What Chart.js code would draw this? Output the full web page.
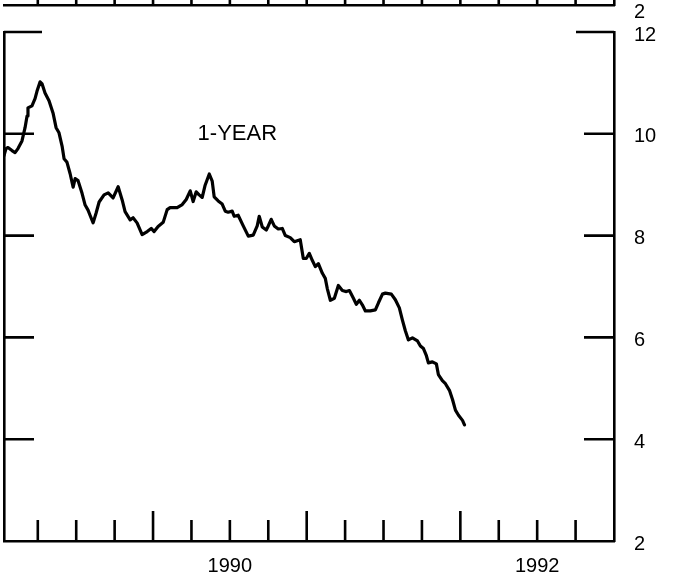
<!DOCTYPE html>
<html>
<head>
<meta charset="utf-8">
<script src="https://cdn.jsdelivr.net/npm/chart.js@4.4.0/dist/chart.umd.min.js"></script>
<style>
    body { margin: 0; background: #fff; width: 676px; height: 573px; overflow: hidden; position: relative; }
    #topPanel { position: absolute; left: 0; top: -63px; }
    #chart1yr { position: absolute; left: 0; top: 0; }
</style>
</head>
<body>
<canvas id="topPanel" width="676" height="100"></canvas>
<canvas id="chart1yr" width="676" height="573"></canvas>
<script>
// dates in decimal years
const dates = [
    1989.030, 1989.043, 1989.056, 1989.082, 1989.102, 1989.121, 1989.147, 1989.167, 1989.180, 1989.186,
    1989.212, 1989.232, 1989.245, 1989.265, 1989.278, 1989.297, 1989.323, 1989.349, 1989.369, 1989.388,
    1989.408, 1989.421, 1989.440, 1989.460, 1989.480, 1989.493, 1989.512, 1989.538, 1989.558, 1989.577,
    1989.590, 1989.610, 1989.629, 1989.649, 1989.681, 1989.708, 1989.740, 1989.773, 1989.799, 1989.818,
    1989.851, 1989.870, 1989.896, 1989.929, 1989.962, 1989.988, 1990.007, 1990.033, 1990.066, 1990.092,
    1990.111, 1990.157, 1990.190, 1990.216, 1990.242, 1990.261, 1990.281, 1990.300, 1990.320, 1990.339,
    1990.366, 1990.385, 1990.398, 1990.424, 1990.450, 1990.470, 1990.489, 1990.515, 1990.528, 1990.554,
    1990.587, 1990.620, 1990.652, 1990.678, 1990.691, 1990.711, 1990.737, 1990.750, 1990.769, 1990.789,
    1990.815, 1990.841, 1990.861, 1990.893, 1990.919, 1990.958, 1990.978, 1990.997, 1991.017, 1991.037,
    1991.056, 1991.076, 1991.102, 1991.121, 1991.134, 1991.154, 1991.180, 1991.206, 1991.232, 1991.258,
    1991.278, 1991.304, 1991.323, 1991.343, 1991.362, 1991.382, 1991.414, 1991.447, 1991.467, 1991.493,
    1991.512, 1991.551, 1991.577, 1991.603, 1991.623, 1991.642, 1991.662, 1991.688, 1991.721, 1991.740,
    1991.760, 1991.779, 1991.792, 1991.818, 1991.844, 1991.857, 1991.883, 1991.903, 1991.929, 1991.949,
    1991.968, 1991.988, 1992.014, 1992.027,
];
// 1-year rate, percent
const yields = [
    9.57, 9.71, 9.73, 9.67, 9.63, 9.71, 9.86, 10.12, 10.35, 10.51,
    10.55, 10.69, 10.84, 11.02, 10.98, 10.80, 10.65, 10.41, 10.12, 10.02,
    9.76, 9.51, 9.44, 9.22, 8.95, 9.12, 9.08, 8.83, 8.60, 8.50,
    8.40, 8.25, 8.44, 8.66, 8.80, 8.84, 8.74, 8.96, 8.70, 8.47,
    8.31, 8.35, 8.25, 8.02, 8.08, 8.14, 8.08, 8.18, 8.26, 8.51,
    8.55, 8.55, 8.61, 8.71, 8.88, 8.67, 8.86, 8.80, 8.75, 8.99,
    9.21, 9.07, 8.76, 8.68, 8.62, 8.48, 8.46, 8.48, 8.38, 8.40,
    8.19, 7.99, 8.01, 8.19, 8.38, 8.17, 8.11, 8.19, 8.32, 8.19,
    8.13, 8.14, 8.00, 7.96, 7.88, 7.92, 7.55, 7.55, 7.65, 7.51,
    7.39, 7.45, 7.26, 7.16, 6.96, 6.73, 6.77, 7.02, 6.92, 6.90,
    6.92, 6.77, 6.65, 6.73, 6.64, 6.52, 6.52, 6.54, 6.68, 6.85,
    6.87, 6.85, 6.74, 6.58, 6.34, 6.13, 5.95, 5.99, 5.93, 5.83,
    5.78, 5.64, 5.50, 5.52, 5.48, 5.27, 5.15, 5.09, 4.96, 4.78,
    4.57, 4.47, 4.37, 4.28,
];
const yTicks = [2, 4, 6, 8, 10, 12];
const quarterTicks = [1989.25, 1989.5, 1989.75, 1990, 1990.25, 1990.5, 1990.75, 1991,
    1991.25, 1991.5, 1991.75, 1992, 1992.25, 1992.5, 1992.75];
const yearTicks = [1990, 1991, 1992];
const yearLabels = ['1990', '1992'];
const yearLabelPos = [1990.5, 1992.5];
const seriesLabel = '1-YEAR';
const xMin = 1989.03;
const xMax = 1993.0;

const font = { family: "'Liberation Sans', Arial, sans-serif", size: 20 };

// inward tick marks on the frame, placed with the chart's own scales
const frameTicks = {
    id: 'frameTicks',
    afterDraw(chart, args, opts) {
        const ctx = chart.ctx;
        const a = chart.chartArea;
        const x = chart.scales.x;
        const y = chart.scales.y;
        ctx.save();
        ctx.strokeStyle = '#000';
        ctx.lineWidth = 2.6;
        ctx.beginPath();
        if (opts.sideTicks) {
            yTicks.forEach((v) => {
                if (v === y.min) return;
                const py = y.getPixelForValue(v);
                const len = v === y.max ? 38 : 30;
                ctx.moveTo(a.left, py);
                ctx.lineTo(a.left + len, py);
                ctx.moveTo(a.right, py);
                ctx.lineTo(a.right - len, py);
            });
        }
        quarterTicks.forEach((t) => {
            const px = x.getPixelForValue(t);
            const len = yearTicks.includes(t) ? 30 : 21;
            ctx.moveTo(px, a.bottom);
            ctx.lineTo(px, a.bottom - len);
        });
        ctx.stroke();
        if (opts.label) {
            ctx.fillStyle = '#000';
            ctx.font = "22px 'Liberation Sans', Arial, sans-serif";
            ctx.textAlign = 'left';
            ctx.textBaseline = 'middle';
            ctx.fillText(opts.label, x.getPixelForValue(1990.29), y.getPixelForValue(10.0));
        }
        ctx.restore();
    },
};

function makeOptions(showLeft, labelOffset) {
    return {
        responsive: false,
        animation: false,
        devicePixelRatio: 1,
        layout: { padding: { top: 32, left: 0, right: 0, bottom: 0 } },
        plugins: {
            legend: { display: false },
            tooltip: { enabled: false },
            frameTicks: { sideTicks: showLeft, label: showLeft ? seriesLabel : null },
        },
        scales: {
            x: {
                type: 'linear',
                position: 'bottom',
                min: xMin,
                max: xMax,
                afterBuildTicks: (s) => {
                    s.ticks = showLeft ? yearLabelPos.map((v) => ({ value: v })) : [];
                },
                afterFit: (s) => { s.height = 31; },
                grid: { display: false },
                border: { display: true, color: '#000', width: 2.6 },
                ticks: {
                    color: '#000',
                    font: font,
                    padding: 5,
                    maxRotation: 0,
                    callback: (v, i) => yearLabels[i],
                },
            },
            y: {
                type: 'linear',
                position: 'right',
                min: 2,
                max: 12,
                afterBuildTicks: (s) => {
                    s.ticks = (showLeft ? yTicks : [2]).map((v) => ({ value: v }));
                },
                afterFit: (s) => { s.width = 62; },
                grid: { display: false, drawTicks: false },
                border: { display: true, color: '#000', width: 2.6 },
                ticks: { color: '#000', font: font, padding: 20, labelOffset: labelOffset },
            },
            yl: {
                type: 'linear',
                position: 'left',
                min: 2,
                max: 12,
                display: true,
                afterFit: (s) => { s.width = 4; },
                grid: { display: false, drawTicks: false },
                border: { display: showLeft, color: '#000', width: 2.6 },
                ticks: { display: false },
            },
        },
    };
}

new Chart(document.getElementById('chart1yr'), {
    type: 'line',
    data: {
        datasets: [
            {
                label: seriesLabel,
                data: dates.map((d, i) => ({ x: d, y: yields[i] })),
                borderColor: '#000',
                borderWidth: 3.2,
                borderJoinStyle: 'round',
                borderCapStyle: 'round',
                pointRadius: 0,
                tension: 0,
                fill: false,
            },
        ],
    },
    options: makeOptions(true, 3),
    plugins: [frameTicks],
});

// bottom edge of the panel above, cut off by the page
new Chart(document.getElementById('topPanel'), {
    type: 'line',
    data: { datasets: [] },
    options: makeOptions(false, 7),
    plugins: [frameTicks],
});
</script>
</body>
</html>
